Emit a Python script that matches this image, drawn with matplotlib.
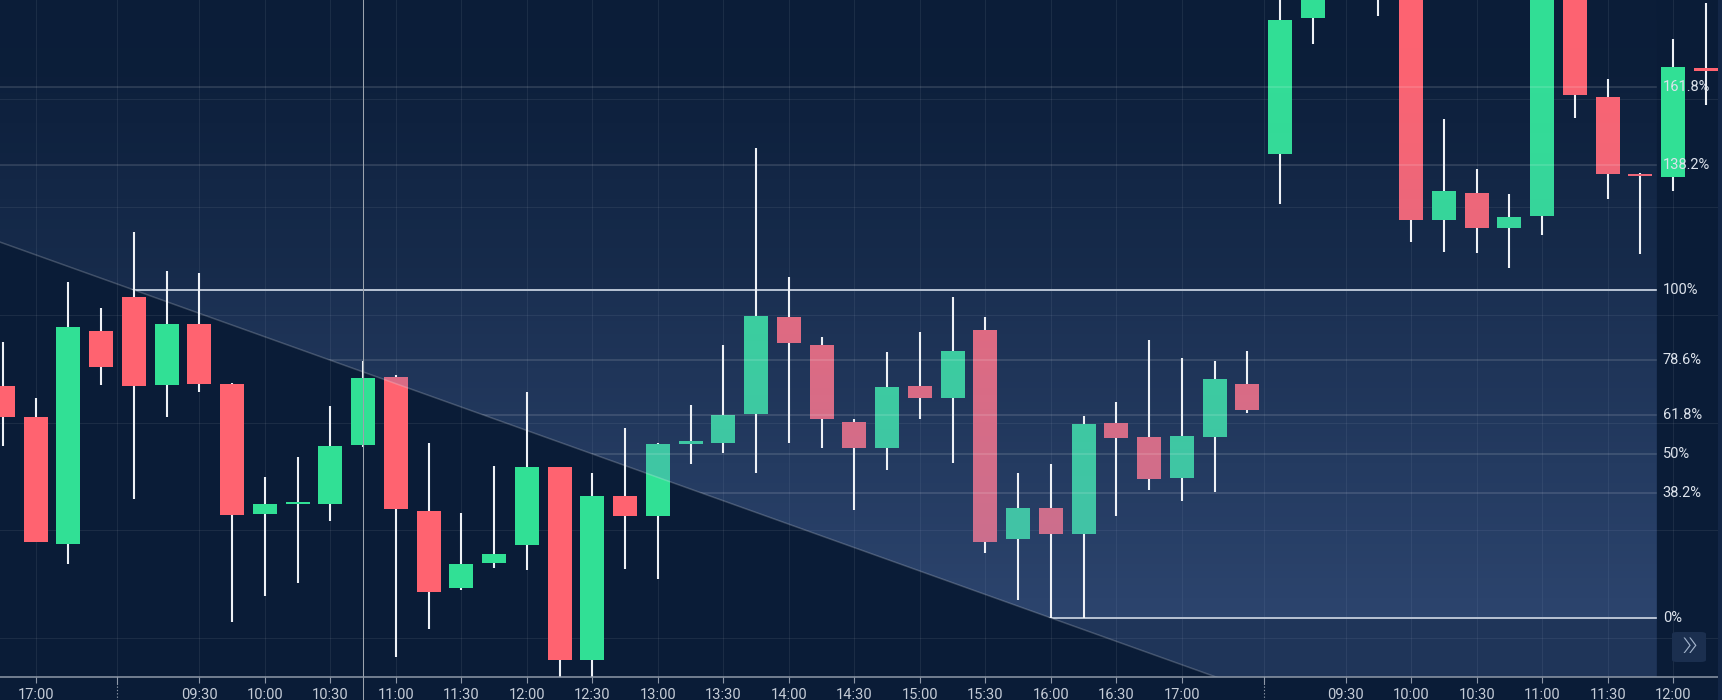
import numpy as np
import matplotlib
matplotlib.use("Agg")
import matplotlib.pyplot as plt
from matplotlib.patches import Polygon, FancyBboxPatch, Rectangle
from matplotlib.transforms import blended_transform_factory

plt.rcParams['font.family'] = ['Roboto', 'DejaVu Sans']


def quarter_hours(start, count):
    h, m = map(int, start.split(':'))
    out = []
    for i in range(count):
        t = h * 60 + m + 15 * i
        out.append(f"{t // 60:02d}:{t % 60:02d}")
    return out


# 15 min candles, three sessions on screen
sessions = [quarter_hours("16:45", 4), quarter_hours("09:00", 35), quarter_hours("09:00", 14)]
times = sum(sessions, [])

# prices expressed in % of the fib swing (0 = swing low, 100 = swing high)
opens = [70.8, 61.2, 22.5, 87.6, 97.7, 70.9, 89.7, 71.3, 31.8, 34.7, 34.8, 52.6, 73.5, 32.7,
         9.1, 16.8, 22.2, 46.1, -12.8, 37.2, 31.1, 53.0, 53.4, 62.1, 91.9, 83.2, 59.8, 51.7,
         70.8, 67.2, 87.8, 24.0, 33.4, 25.7, 59.4, 55.1, 42.6, 55.3, 71.3,
         141.4, 182.8, 196.0, 196.0, 197.0, 121.3, 129.7, 119.0, 122.6, 206.0, 158.7, 135.3,
         134.4, 167.8]
highs = [84.2, 67.1, 102.3, 94.4, 117.8, 105.7, 105.2, 71.6, 42.9, 49.1, 64.7, 78.4, 74.2, 53.3,
         32.0, 46.4, 68.8, 46.1, 44.3, 58.0, 53.2, 65.0, 83.2, 143.4, 104.1, 85.8, 60.6, 81.1,
         87.2, 97.7, 91.9, 44.3, 46.9, 61.6, 65.9, 84.8, 79.2, 78.4, 81.5,
         195.0, 201.0, 204.0, 206.0, 200.0, 152.0, 136.8, 129.3, 210.0, 211.0, 164.2, 135.6,
         176.4, 187.4]
lows = [52.5, 23.2, 16.4, 70.9, 36.2, 61.3, 68.8, -1.1, 6.8, 10.6, 29.7, 52.0, -11.8, -3.4,
        8.5, 15.2, 14.5, -20.0, -20.0, 14.8, 12.0, 46.9, 50.4, 44.1, 53.4, 51.9, 32.9, 45.1,
        60.6, 47.3, 19.9, 5.5, 0.0, 0.0, 31.1, 39.0, 35.8, 38.5, 62.6,
        126.2, 174.9, 190.0, 183.6, 114.7, 111.5, 111.2, 106.6, 116.8, 152.5, 127.7, 111.0,
        130.2, 156.4]
closes = [61.3, 23.2, 88.6, 76.4, 70.7, 89.7, 71.4, 31.4, 34.7, 35.4, 52.5, 73.1, 33.2, 8.0,
          16.6, 19.4, 46.1, -12.8, 37.1, 31.1, 53.0, 53.8, 61.9, 92.2, 83.8, 60.6, 51.9, 70.5,
          67.2, 81.3, 23.2, 33.6, 25.7, 59.1, 54.8, 42.3, 55.5, 72.8, 63.4,
          182.3, 194.0, 199.0, 191.5, 121.3, 130.3, 119.0, 122.3, 205.0, 159.4, 135.3, 134.6,
          168.1, 166.9]

day_ticks = [["17:00"],
             ["09:30", "10:00", "10:30", "11:00", "11:30", "12:00", "12:30", "13:00", "13:30",
              "14:00", "14:30", "15:00", "15:30", "16:00", "16:30", "17:00"],
             ["09:30", "10:00", "10:30", "11:00", "11:30", "12:00"]]

fib_levels = [0, 38.2, 50, 61.8, 78.6, 100, 138.2, 161.8]
fib_labels = ["0%", "38.2%", "50%", "61.8%", "78.6%", "100%", "138.2%", "161.8%"]
fib_start = (4, 100.0)    # swing high candle
fib_stop = (32, 0.0)      # swing low candle
fib_end = 50.5
crosshair_at = 11

BG = '#0a1c37'
GREEN = '#31e095'
RED = '#ff6370'
WICK = '#eef1f6'
AXIS = '#8f99a8'
TXT = '#c5ccd7'

o, h, l, c = map(np.array, (opens, highs, lows, closes))
x = np.arange(len(o))

fig = plt.figure(figsize=(17.22, 7.0), dpi=100, facecolor=BG)
ax = fig.add_axes([0, 23 / 700, 1, 677 / 700])
ax.set_facecolor(BG)
x0, x1 = -0.087, 52.49
y0, y1 = -18.0, 188.4

# tick positions from session layout
tick_pos, tick_lab, breaks = [], [], []
start = 0
for sess, ticks in zip(sessions, day_ticks):
    for t in ticks:
        tick_pos.append(start + sess.index(t))
        tick_lab.append(t)
    start += len(sess)
    breaks.append(start - 0.5)
breaks = breaks[:-1]

# candles
body_lo = np.minimum(o, c)
body_h = np.abs(c - o)
thin = body_h < 0.7
body_lo = np.where(thin, (o + c) / 2 - 0.35, body_lo)
body_h = np.where(thin, 0.7, body_h)
cols = [GREEN if cc >= oo else RED for oo, cc in zip(o, c)]
ax.bar(x, body_h, bottom=body_lo, width=0.733, color=cols, linewidth=0, zorder=2)
ax.vlines(x, body_lo + body_h, h, color=WICK, lw=1.5, zorder=5)
ax.vlines(x, l, body_lo, color=WICK, lw=1.5, zorder=5)

# fib drawing: area above the extended swing line
slope = (fib_stop[1] - fib_start[1]) / (fib_stop[0] - fib_start[0])


def trend(xv):
    return fib_start[1] + slope * (xv - fib_start[0])


clip = Polygon([(x0 - 1, 400), (x0 - 1, trend(x0 - 1)), (fib_end, trend(fib_end)), (fib_end, 400)],
               closed=True, transform=ax.transData, facecolor='none', edgecolor='none')
ax.add_patch(clip)

kv = [-25, -0.01, 0.01, 99.99, 100.01, 138.19, 138.21, 161.79, 161.81, 195]
ka = [0.24, 0.24, 0.38, 0.19, 0.15, 0.10, 0.075, 0.045, 0.025, 0.01]
vv = np.linspace(195, -25, 2200)
img = np.zeros((len(vv), 1, 4))
img[..., 0], img[..., 1], img[..., 2] = 100 / 255, 135 / 255, 200 / 255
img[:, 0, 3] = np.interp(vv, kv, ka)
im = ax.imshow(img, extent=[x0 - 1, fib_end, -25, 195], aspect='auto',
               interpolation='nearest', origin='upper', zorder=3)
im.set_clip_path(clip)

for lv, lab in zip(fib_levels, fib_labels):
    if lv in (0, 100):
        ln, = ax.plot([x0 - 1, fib_end], [lv, lv], color='#b4bfd0', lw=1.45, zorder=4)
    else:
        ln, = ax.plot([x0 - 1, fib_end], [lv, lv], color='white', alpha=0.13, lw=1.3, zorder=4)
    ln.set_clip_path(clip)
    ax.annotate(lab, xy=(fib_end, lv), xytext=(6, 0), textcoords='offset pixels',
                va='center', ha='left', color='#dde3ec', fontsize=10.5, zorder=7,
                annotation_clip=False)

ax.plot([x0 - 1, 45], [trend(x0 - 1), trend(45)], color='white', alpha=0.2, lw=1.1, zorder=4)

# grid
grid_vals = [-6.19 + 32.866 * k for k in range(6)]
for gv in grid_vals:
    ax.axhline(gv, color='white', alpha=0.07, lw=0.75, zorder=1)
for gx in tick_pos + breaks:
    ax.axvline(gx, color='white', alpha=0.07, lw=0.75, zorder=1)

# crosshair
bt = blended_transform_factory(ax.transData, ax.transAxes)
ax.plot([crosshair_at, crosshair_at], [-0.05, 1], transform=bt, clip_on=False,
        color='#9ba3ad', lw=0.75, zorder=6)

ax.set_xlim(x0, x1)
ax.set_ylim(y0, y1)
for s in ('top', 'left', 'right'):
    ax.spines[s].set_visible(False)
ax.spines['bottom'].set_color(AXIS)
ax.spines['bottom'].set_linewidth(1.1)
ax.spines['bottom'].set_zorder(8)
ax.set_yticks([])
ax.set_xticks(tick_pos)
ax.set_xticklabels([''] * len(tick_pos))
ax.tick_params(axis='x', length=4.3, width=0.8, color=AXIS)

for tp, tl in zip(tick_pos, tick_lab):
    ax.annotate(tl, xy=(tp, 0), xycoords=bt, xytext=(0, -22), textcoords='offset pixels',
                ha='center', va='baseline', color=TXT, fontsize=10.5, annotation_clip=False)

ft = blended_transform_factory(ax.transData, fig.transFigure)
for bx in breaks:
    ax.plot([bx, bx], [23 / 700, 16 / 700], transform=ft, clip_on=False, color=AXIS, lw=0.8)
    ax.plot([bx, bx], [14 / 700, 0], transform=ft, clip_on=False, color=AXIS, lw=0.8,
            linestyle=(0, (1.2, 1.8)))

# right edge strip and scroll button
fig.add_artist(Rectangle((1718 / 1722, 0), 4 / 1722, 1, transform=fig.transFigure,
                         facecolor='#132646', edgecolor='none', zorder=9))
fig.add_artist(FancyBboxPatch((1672 / 1722, 38 / 700), 34 / 1722, 30 / 700,
                              boxstyle='round,pad=0,rounding_size=0.003',
                              transform=fig.transFigure, facecolor='#1b2f4f',
                              edgecolor='none', zorder=9))
fig.text(1689 / 1722, 55.5 / 700, "»", ha='center', va='center', color='#a3b4cc',
         fontsize=29, fontweight='light', zorder=10)

fig.savefig("out.png", dpi=100, facecolor=BG)
